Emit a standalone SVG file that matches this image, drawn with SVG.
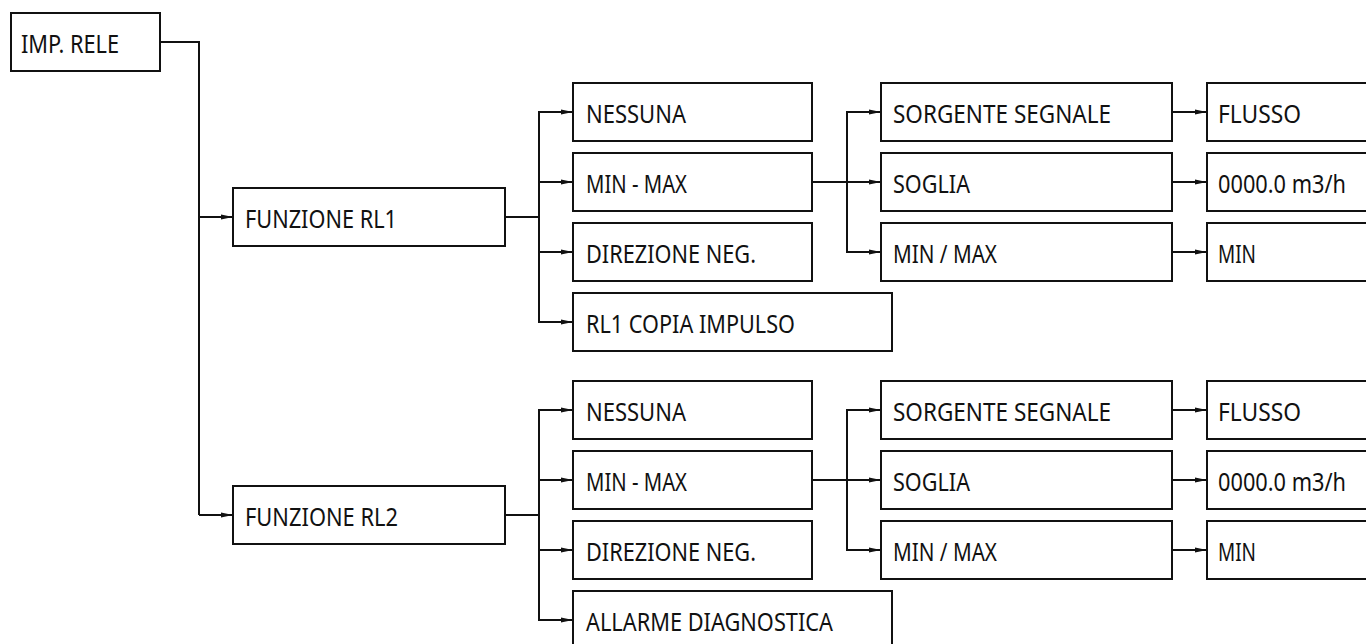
<svg xmlns="http://www.w3.org/2000/svg" width="1366" height="644" viewBox="0 0 1366 644">
<defs>
<marker id="arr" markerUnits="userSpaceOnUse" markerWidth="14" markerHeight="8" refX="12" refY="4" orient="auto">
<path d="M0,1.5 L12,4 L0,6.5 z" fill="#111"/>
</marker>
<style>
.box{fill:#fff;stroke:#111;stroke-width:2}
.lbl{font-family:"Noto Sans","Open Sans","DejaVu Sans",sans-serif;font-size:24.5px;fill:#111}
.ln{fill:none;stroke:#111;stroke-width:2}
.ar{fill:none;stroke:#111;stroke-width:2;marker-end:url(#arr)}
</style>
</defs>
<rect width="1366" height="644" fill="#fff"/>
<g id="connectors">
<path class="ln" d="M160,42 H199 V515"/>
<path class="ar" d="M199,217 H233"/>
<path class="ar" d="M199,515 H233"/>
<path class="ln" d="M505,217 H539"/>
<path class="ar" d="M539,217 V112 H573"/>
<path class="ar" d="M539,182 H573"/>
<path class="ar" d="M539,252 H573"/>
<path class="ar" d="M539,217 V322 H573"/>
<path class="ar" d="M812,182 H881"/>
<path class="ar" d="M847,182 V112 H881"/>
<path class="ar" d="M847,182 V252 H881"/>
<path class="ar" d="M1172,112 H1207"/>
<path class="ar" d="M1172,182 H1207"/>
<path class="ar" d="M1172,252 H1207"/>
<path class="ln" d="M505,515 H539"/>
<path class="ar" d="M539,515 V410 H573"/>
<path class="ar" d="M539,480 H573"/>
<path class="ar" d="M539,550 H573"/>
<path class="ar" d="M539,515 V620 H573"/>
<path class="ar" d="M812,480 H881"/>
<path class="ar" d="M847,480 V410 H881"/>
<path class="ar" d="M847,480 V550 H881"/>
<path class="ar" d="M1172,410 H1207"/>
<path class="ar" d="M1172,480 H1207"/>
<path class="ar" d="M1172,550 H1207"/>
</g>
<g id="imp-rele"><rect class="box" x="11" y="13" width="149" height="58"/><text class="lbl" x="21" y="52.5" textLength="98" lengthAdjust="spacingAndGlyphs">IMP. RELE</text></g>
<g id="funzione-rl1"><rect class="box" x="233" y="188" width="272" height="58"/><text class="lbl" x="245" y="227.5" textLength="152" lengthAdjust="spacingAndGlyphs">FUNZIONE RL1</text></g>
<g id="funzione-rl2"><rect class="box" x="233" y="486" width="272" height="58"/><text class="lbl" x="245" y="525.5" textLength="153" lengthAdjust="spacingAndGlyphs">FUNZIONE RL2</text></g>
<g id="rl1-nessuna"><rect class="box" x="573" y="83" width="239" height="58"/><text class="lbl" x="586" y="122.5" textLength="100" lengthAdjust="spacingAndGlyphs">NESSUNA</text></g>
<g id="rl1-minmax"><rect class="box" x="573" y="153" width="239" height="58"/><text class="lbl" x="586" y="192.5" textLength="101" lengthAdjust="spacingAndGlyphs">MIN - MAX</text></g>
<g id="rl1-direzione"><rect class="box" x="573" y="223" width="239" height="58"/><text class="lbl" x="586" y="262.5" textLength="170" lengthAdjust="spacingAndGlyphs">DIREZIONE NEG.</text></g>
<g id="rl1-copia"><rect class="box" x="573" y="293" width="319" height="58"/><text class="lbl" x="586" y="332.5" textLength="209" lengthAdjust="spacingAndGlyphs">RL1 COPIA IMPULSO</text></g>
<g id="rl1-sorgente"><rect class="box" x="881" y="83" width="291" height="58"/><text class="lbl" x="893" y="122.5" textLength="218" lengthAdjust="spacingAndGlyphs">SORGENTE SEGNALE</text></g>
<g id="rl1-soglia"><rect class="box" x="881" y="153" width="291" height="58"/><text class="lbl" x="893" y="192.5" textLength="77" lengthAdjust="spacingAndGlyphs">SOGLIA</text></g>
<g id="rl1-minslashmax"><rect class="box" x="881" y="223" width="291" height="58"/><text class="lbl" x="893" y="262.5" textLength="104" lengthAdjust="spacingAndGlyphs">MIN / MAX</text></g>
<g id="rl1-flusso"><rect class="box" x="1207" y="83" width="200" height="58"/><text class="lbl" x="1218" y="122.5" textLength="83" lengthAdjust="spacingAndGlyphs">FLUSSO</text></g>
<g id="rl1-valore"><rect class="box" x="1207" y="153" width="200" height="58"/><text class="lbl" x="1218" y="192.5" textLength="128" lengthAdjust="spacingAndGlyphs">0000.0 m3/h</text></g>
<g id="rl1-min"><rect class="box" x="1207" y="223" width="200" height="58"/><text class="lbl" x="1218" y="262.5" textLength="38" lengthAdjust="spacingAndGlyphs">MIN</text></g>
<g id="rl2-nessuna"><rect class="box" x="573" y="381" width="239" height="58"/><text class="lbl" x="586" y="420.5" textLength="100" lengthAdjust="spacingAndGlyphs">NESSUNA</text></g>
<g id="rl2-minmax"><rect class="box" x="573" y="451" width="239" height="58"/><text class="lbl" x="586" y="490.5" textLength="101" lengthAdjust="spacingAndGlyphs">MIN - MAX</text></g>
<g id="rl2-direzione"><rect class="box" x="573" y="521" width="239" height="58"/><text class="lbl" x="586" y="560.5" textLength="170" lengthAdjust="spacingAndGlyphs">DIREZIONE NEG.</text></g>
<g id="rl2-allarme"><rect class="box" x="573" y="591" width="319" height="58"/><text class="lbl" x="586" y="630.5" textLength="247" lengthAdjust="spacingAndGlyphs">ALLARME DIAGNOSTICA</text></g>
<g id="rl2-sorgente"><rect class="box" x="881" y="381" width="291" height="58"/><text class="lbl" x="893" y="420.5" textLength="218" lengthAdjust="spacingAndGlyphs">SORGENTE SEGNALE</text></g>
<g id="rl2-soglia"><rect class="box" x="881" y="451" width="291" height="58"/><text class="lbl" x="893" y="490.5" textLength="77" lengthAdjust="spacingAndGlyphs">SOGLIA</text></g>
<g id="rl2-minslashmax"><rect class="box" x="881" y="521" width="291" height="58"/><text class="lbl" x="893" y="560.5" textLength="104" lengthAdjust="spacingAndGlyphs">MIN / MAX</text></g>
<g id="rl2-flusso"><rect class="box" x="1207" y="381" width="200" height="58"/><text class="lbl" x="1218" y="420.5" textLength="83" lengthAdjust="spacingAndGlyphs">FLUSSO</text></g>
<g id="rl2-valore"><rect class="box" x="1207" y="451" width="200" height="58"/><text class="lbl" x="1218" y="490.5" textLength="128" lengthAdjust="spacingAndGlyphs">0000.0 m3/h</text></g>
<g id="rl2-min"><rect class="box" x="1207" y="521" width="200" height="58"/><text class="lbl" x="1218" y="560.5" textLength="38" lengthAdjust="spacingAndGlyphs">MIN</text></g>
</svg>
